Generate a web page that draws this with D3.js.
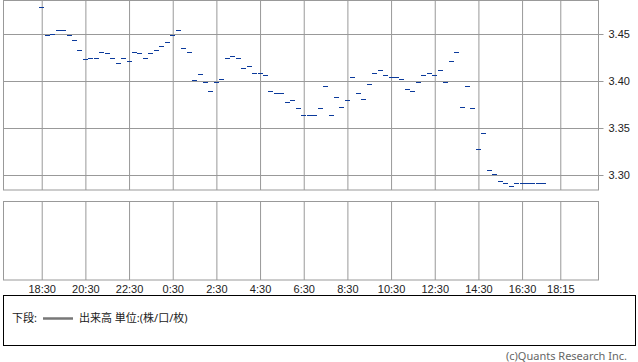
<!DOCTYPE html>
<html>
<head>
<meta charset="utf-8">
<script src="https://cdn.jsdelivr.net/npm/d3@7"></script>
<style>
    body { margin: 0; background: #fff; }
    svg { display: block; font-family: "Noto Sans", "Noto Sans CJK JP", sans-serif; }
</style>
</head>
<body>
<svg id="chart" width="638" height="362"></svg>
<script>
// Price per 15-minute bar, starting 18:30
const START = "18:30";
const STEP_MIN = 15;
const prices = [
    3.479, 3.449, 3.450, 3.454, 3.454, 3.449, 3.444, 3.433, 3.423, 3.425,
    3.425, 3.431, 3.430, 3.425, 3.419, 3.425, 3.421, 3.431, 3.430, 3.425,
    3.430, 3.433, 3.437, 3.442, 3.449, 3.454, 3.435, 3.431, 3.401, 3.408,
    3.399, 3.389, 3.399, 3.402, 3.425, 3.427, 3.425, 3.414, 3.416, 3.409,
    3.409, 3.406, 3.389, 3.387, 3.387, 3.378, 3.380, 3.371, 3.364, 3.364,
    3.364, 3.371, 3.395, 3.364, 3.383, 3.373, 3.380, 3.404, 3.387, 3.381,
    3.397, 3.409, 3.412, 3.406, 3.404, 3.404, 3.402, 3.392, 3.390, 3.399,
    3.406, 3.409, 3.406, 3.412, 3.399, 3.421, 3.431, 3.373, 3.395, 3.371,
    3.328, 3.345, 3.306, 3.301, 3.294, 3.292, 3.289, 3.292, 3.292, 3.292,
    3.292, 3.292, 3.292
];
const xTickLabels = ["18:30", "20:30", "22:30", "0:30", "2:30", "4:30", "6:30",
    "8:30", "10:30", "12:30", "14:30", "16:30", "18:15"];
const yTicks = [3.30, 3.35, 3.40, 3.45];

const svg = d3.select("#chart");
const GRID = "#999";

// Turn "H:MM" labels into dates, rolling over to the next day when hours go back
function toDates(labels) {
    let day = 1, prev = -1;
    return labels.map(s => {
        const [h, m] = s.split(":").map(Number);
        if (h < prev) day++;
        prev = h;
        return new Date(2024, 0, day, h, m);
    });
}
const tickDates = toDates(xTickLabels);
const t0 = toDates([START])[0];
const times = prices.map((_, i) => new Date(+t0 + i * STEP_MIN * 60000));

const x = d3.scaleTime()
    .domain([new Date(2024, 0, 1, 16, 45), new Date(2024, 0, 2, 20, 0)])
    .range([3.5, 598.5]);
const y = d3.scaleLinear().domain([3.2844, 3.4861]).range([190, 0]);

// Upper panel (price)
const upper = svg.append("g");
upper.append("rect").attr("x", 3.5).attr("y", 0.5).attr("width", 595).attr("height", 189.5)
    .attr("fill", "none").attr("stroke", GRID);

const yAxis = upper.append("g").attr("transform", "translate(3.5,0)")
    .call(d3.axisRight(y).tickValues(yTicks).tickSize(600).tickPadding(5).tickFormat(d3.format(".2f")));
yAxis.select(".domain").remove();
yAxis.selectAll(".tick").attr("transform", d => `translate(0,${Math.round(y(d)) + 0.5})`);
yAxis.selectAll(".tick line").attr("stroke", GRID);
yAxis.selectAll("text").attr("font-size", 11).attr("fill", "#222");

const xGridTop = upper.append("g").attr("transform", "translate(0,190)")
    .call(d3.axisBottom(x).tickValues(tickDates).tickSize(-190).tickFormat(""));
xGridTop.select(".domain").remove();
xGridTop.selectAll(".tick line").attr("stroke", GRID);

upper.append("g").selectAll("rect").data(prices).join("rect")
    .attr("x", (d, i) => Math.round(x(times[i]) - 2.5))
    .attr("y", d => Math.round(y(d)))
    .attr("width", 5).attr("height", 1)
    .attr("fill", "#0b3a9c");

// Lower panel (volume, empty)
const lower = svg.append("g");
lower.append("rect").attr("x", 3.5).attr("y", 201.5).attr("width", 595).attr("height", 78.5)
    .attr("fill", "none").attr("stroke", GRID);
const xAxis = lower.append("g").attr("transform", "translate(0,280)")
    .call(d3.axisBottom(x).tickValues(tickDates).tickSize(-79).tickPadding(5)
        .tickFormat((d, i) => xTickLabels[i]));
xAxis.select(".domain").remove();
xAxis.selectAll(".tick line").attr("stroke", GRID);
xAxis.selectAll("text").attr("font-size", 11).attr("fill", "#222");

// Legend box
const legend = svg.append("g");
legend.append("rect").attr("x", 3.5).attr("y", 295.5).attr("width", 632).attr("height", 50)
    .attr("fill", "none").attr("stroke", "#000");
legend.append("text").attr("x", 12).attr("y", 322).attr("font-size", 11).attr("fill", "#222").text("下段:");
legend.append("line").attr("x1", 43).attr("x2", 73).attr("y1", 318.5).attr("y2", 318.5)
    .attr("stroke", "#777").attr("stroke-width", 2.5);
legend.append("text").attr("x", 79).attr("y", 322).attr("font-size", 11).attr("fill", "#222")
    .text("出来高 単位:(株/口/枚)");

svg.append("text").attr("x", 627).attr("y", 360).attr("text-anchor", "end")
    .attr("font-size", 11).attr("fill", "#666").text("(c)Quants Research Inc.");
</script>
</body>
</html>
